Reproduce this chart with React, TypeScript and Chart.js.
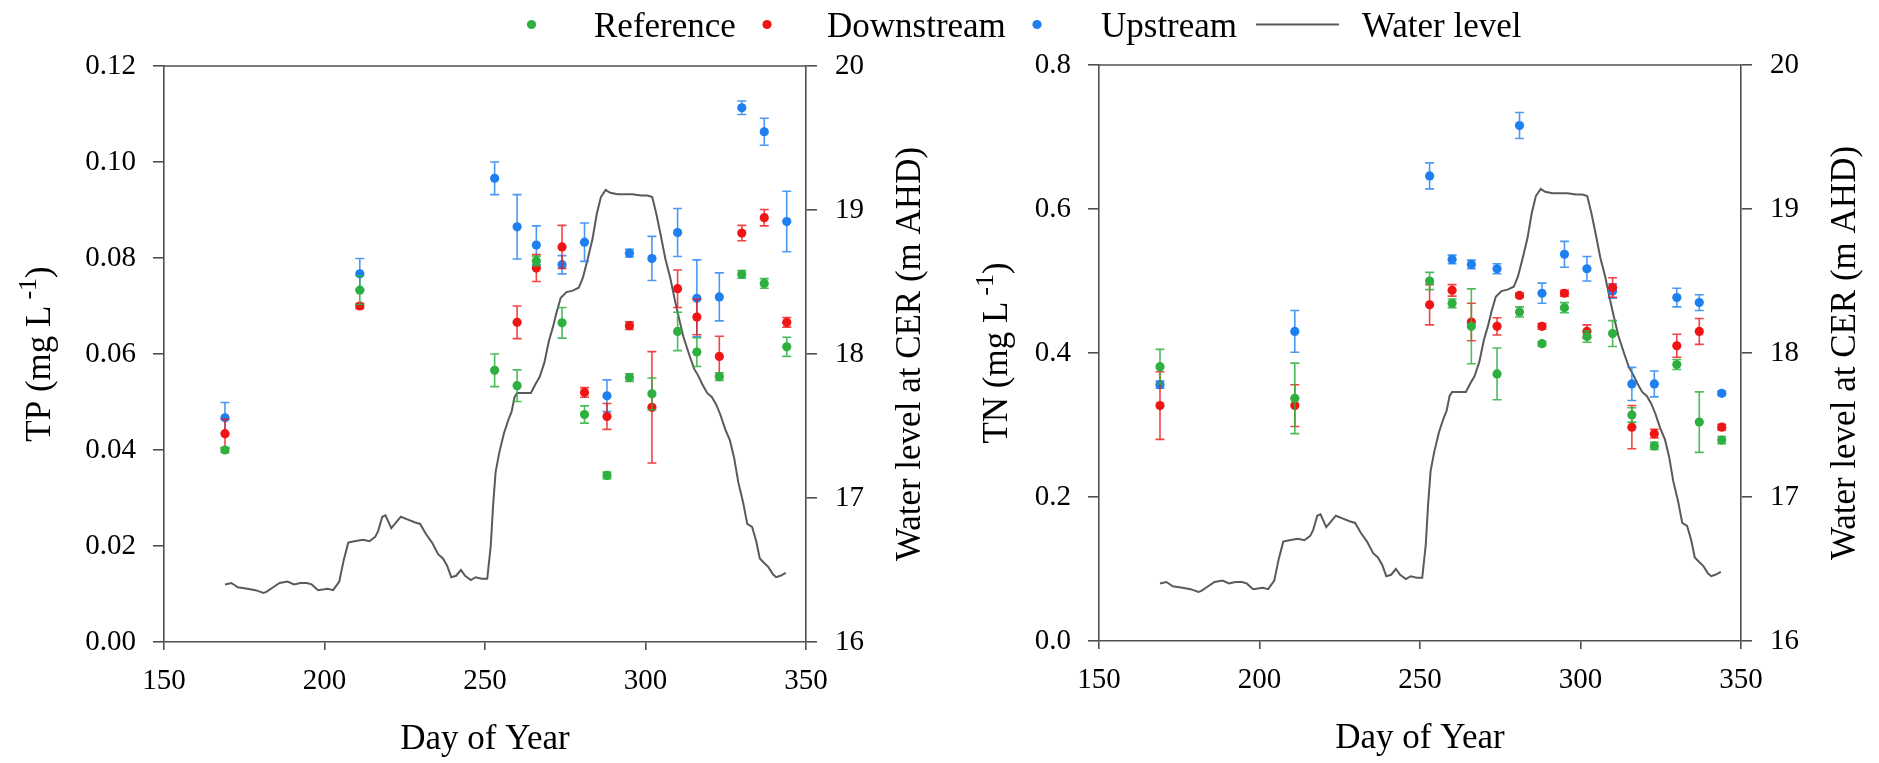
import React, { useEffect, useRef } from "react";
import { Chart, registerables } from "chart.js";

Chart.register(...registerables);

const FONT = "'Liberation Serif', 'Times New Roman', serif";
const GREEN = "#2eb040";
const RED = "#f01414";
const BLUE = "#1e80f0";
const LINE = "#5a5a5a";
const AXIS = "#505050";

// ---------- data ----------
const sampleDays = [169, 211, 253, 260, 266, 274, 281, 288, 295, 302, 310, 316, 323, 330, 337, 344];

const tpReference = [0.04, 0.0733, 0.0566, 0.0534, 0.0794, 0.0665, 0.0474, 0.0347, 0.0551, 0.0517, 0.0647, 0.0604, 0.0553, 0.0766, 0.0747, 0.0615];
const tpReferenceErr = [0.0005, 0.003, 0.0034, 0.0033, 0.001, 0.0032, 0.0018, 0.0007, 0.0008, 0.0033, 0.004, 0.003, 0.0008, 0.0008, 0.001, 0.002];
const tpDownstream = [0.0434, 0.07, null, 0.0666, 0.0779, 0.0823, 0.052, 0.047, 0.0659, 0.0489, 0.0736, 0.0677, 0.0595, 0.0852, 0.0884, 0.0666];
const tpDownstreamErr = [0.003, 0.0005, null, 0.0034, 0.0028, 0.0045, 0.001, 0.0027, 0.0008, 0.0116, 0.0039, 0.0037, 0.0042, 0.0016, 0.0017, 0.001];
const tpUpstream = [0.0467, 0.0767, 0.0966, 0.0865, 0.0827, 0.0786, 0.0833, 0.0513, 0.081, 0.0799, 0.0853, 0.0716, 0.0719, 0.1113, 0.1063, 0.0876];
const tpUpstreamErr = [0.0032, 0.0032, 0.0034, 0.0067, 0.004, 0.0019, 0.004, 0.0033, 0.0008, 0.0046, 0.005, 0.008, 0.005, 0.0014, 0.0028, 0.0063];

const tnReference = [0.381, 0.337, 0.5, 0.469, 0.437, 0.371, 0.457, 0.413, 0.463, 0.423, 0.427, 0.314, 0.271, 0.384, 0.304, 0.279];
const tnReferenceErr = [0.024, 0.049, 0.012, 0.006, 0.052, 0.036, 0.007, 0.003, 0.007, 0.008, 0.018, 0.01, 0.005, 0.007, 0.042, 0.005];
const tnDownstream = [0.327, 0.327, 0.467, 0.487, 0.443, 0.437, 0.48, 0.437, 0.483, 0.43, 0.491, 0.297, 0.288, 0.41, 0.43, 0.297];
const tnDownstreamErr = [0.047, 0.029, 0.028, 0.008, 0.026, 0.012, 0.003, 0.004, 0.004, 0.009, 0.0135, 0.03, 0.006, 0.016, 0.018, 0.004];
const tnUpstream = [0.356, 0.43, 0.646, 0.53, 0.523, 0.517, 0.716, 0.483, 0.537, 0.517, 0.486, 0.357, 0.357, 0.477, 0.47, 0.344];
const tnUpstreamErr = [0.005, 0.029, 0.018, 0.006, 0.006, 0.007, 0.018, 0.014, 0.018, 0.017, 0.01, 0.023, 0.018, 0.013, 0.011, 0.003];

const waterDays = [
  169, 171, 173, 176, 178.5, 181, 182, 184, 186, 188.5, 190.5, 192.5, 194.5, 196, 198, 201, 202.7, 204.6, 206, 207.4,
  209.3, 212, 214, 215.8, 216.7, 218, 219, 220.8, 222.3, 223.8, 226, 228.3, 229.8, 231.6, 233.5, 235.4, 236.9, 238.2,
  239.5, 241, 242.5, 243.8, 245.6, 247.1, 249, 250.7, 251.8, 252.5, 253.3, 254.4, 255.9, 257.4, 258.3, 259.2, 260,
  261.5, 264.3, 265.7, 267, 268.5, 269.9, 271.2, 272.3, 273.6, 275.4, 277.3, 279.2, 280.5, 282, 283.5, 284.8, 286.1,
  287.6, 289, 291.3, 294.1, 295.9, 298.7, 300.6, 302.1, 303.4, 304.7, 306.2, 307.7, 309, 310.3, 311.8, 313.7, 315.1,
  316.4, 317.7, 319.2, 320.7, 322, 323.3, 324.8, 326.3, 327.6, 328.9, 330.4, 331.7, 333.2, 334.5, 335.6, 336.9, 338.3,
  339.7, 340.7, 342, 343.7,
];
const waterLevel = [
  16.4, 16.41, 16.38, 16.37, 16.36, 16.34, 16.35, 16.38, 16.41, 16.42, 16.4, 16.41, 16.41, 16.4, 16.36, 16.37, 16.36, 16.42, 16.57, 16.69,
  16.7, 16.71, 16.7, 16.73, 16.77, 16.87, 16.88, 16.79, 16.83, 16.87, 16.85, 16.83, 16.82, 16.75, 16.69, 16.61, 16.58, 16.53,
  16.45, 16.46, 16.5, 16.46, 16.43, 16.45, 16.44, 16.44, 16.67, 16.94, 17.18, 17.31, 17.45, 17.55, 17.6, 17.7, 17.73,
  17.73, 17.73, 17.79, 17.84, 17.94, 18.09, 18.19, 18.29, 18.39, 18.43, 18.44, 18.46, 18.53, 18.66, 18.8, 18.97, 19.09,
  19.14, 19.12, 19.11, 19.11, 19.11, 19.1, 19.1, 19.09, 18.97, 18.83, 18.66, 18.53, 18.39, 18.26, 18.12, 17.99, 17.9,
  17.85, 17.79, 17.73, 17.7, 17.65, 17.58, 17.48, 17.4, 17.28, 17.11, 16.97, 16.82, 16.8, 16.7, 16.58, 16.55, 16.52,
  16.47, 16.45, 16.46, 16.48,
];

const xTicks = [150, 350, 50];
const levelTicks = [16, 20, 1];

// ---------- helpers ----------
function toPoints(days: number[], vals: (number | null)[], errs: (number | null)[]) {
  const out: any[] = [];
  days.forEach((d, i) => {
    if (vals[i] !== null && vals[i] !== undefined) out.push({ x: d, y: vals[i], e: errs[i] ?? 0 });
  });
  return out;
}

const errorBars = {
  id: "errorBars",
  beforeDatasetDraw(chart: any, args: any) {
    const ds = chart.data.datasets[args.index];
    if (!ds.hasErrors) return;
    const meta = args.meta;
    const ys = chart.scales[meta.yAxisID];
    const ctx = chart.ctx;
    ctx.save();
    ctx.strokeStyle = ds.errColor;
    ctx.lineWidth = 1.6;
    meta.data.forEach((el: any, i: number) => {
      const p = ds.data[i];
      if (!p || !p.e) return;
      const top = ys.getPixelForValue(p.y + p.e);
      const bot = ys.getPixelForValue(p.y - p.e);
      const x = el.x;
      ctx.beginPath();
      ctx.moveTo(x, top);
      ctx.lineTo(x, bot);
      ctx.moveTo(x - 4.5, top);
      ctx.lineTo(x + 4.5, top);
      ctx.moveTo(x - 4.5, bot);
      ctx.lineTo(x + 4.5, bot);
      ctx.stroke();
    });
    ctx.restore();
  },
};

function drawParts(ctx: CanvasRenderingContext2D, parts: { t: string; s: number; rise?: number; gap?: number }[]) {
  let total = 0;
  const widths = parts.map((p) => {
    ctx.font = `${p.s}px ${FONT}`;
    const w = ctx.measureText(p.t).width + (p.gap || 0);
    total += w;
    return w;
  });
  let x = -total / 2;
  parts.forEach((p, i) => {
    ctx.font = `${p.s}px ${FONT}`;
    ctx.fillText(p.t, x + (p.gap || 0), -(p.rise || 0));
    x += widths[i];
  });
}

const decor = {
  id: "decor",
  afterDraw(chart: any, _args: any, opts: any) {
    const ctx = chart.ctx;
    const a = chart.chartArea;
    ctx.save();
    // top frame line
    ctx.strokeStyle = AXIS;
    ctx.lineWidth = 1.6;
    ctx.beginPath();
    ctx.moveTo(a.left, a.top);
    ctx.lineTo(a.right, a.top);
    ctx.stroke();

    ctx.fillStyle = "#000";
    ctx.textAlign = "left";
    ctx.textBaseline = "alphabetic";
    const midY = (a.top + a.bottom) / 2;

    // x title
    ctx.save();
    ctx.translate((a.left + a.right) / 2, a.bottom + opts.xTitleGap);
    drawParts(ctx, [{ t: "Day of Year", s: 35 }]);
    ctx.restore();

    // left title
    ctx.save();
    ctx.translate(a.left - opts.yTitleGap, midY);
    ctx.rotate(-Math.PI / 2);
    drawParts(ctx, [
      { t: opts.yTitle + " (mg L", s: 35 },
      { t: "-1", s: 26, rise: 14, gap: 6 },
      { t: ")", s: 35 },
    ]);
    ctx.restore();

    // right title
    ctx.save();
    ctx.translate(a.right + 114, midY);
    ctx.rotate(-Math.PI / 2);
    drawParts(ctx, [{ t: "Water level at CER (m AHD)", s: 35 }]);
    ctx.restore();

    // legend
    if (opts.legend) {
      const ds = chart.data.datasets;
      const dotX = [531.5, 767, 1037];
      const textX = [594, 827, 1101];
      const cy = 24.5;
      const base = 36.5;
      ctx.font = `35px ${FONT}`;
      for (let i = 0; i < 3; i++) {
        ctx.fillStyle = ds[i].backgroundColor;
        ctx.beginPath();
        ctx.arc(dotX[i], cy, 4.6, 0, Math.PI * 2);
        ctx.fill();
        ctx.fillStyle = "#000";
        ctx.fillText(ds[i].label, textX[i], base);
      }
      ctx.strokeStyle = ds[3].borderColor;
      ctx.lineWidth = 2;
      ctx.beginPath();
      ctx.moveTo(1256, cy);
      ctx.lineTo(1339, cy);
      ctx.stroke();
      ctx.fillStyle = "#000";
      ctx.fillText(ds[3].label, 1362, base);
    }
    ctx.restore();
  },
};

function pointSet(label: string, color: string, errColor: string, data: any[], order: number) {
  return {
    label,
    data,
    backgroundColor: color,
    borderColor: color,
    pointRadius: 4.6,
    pointHoverRadius: 4.6,
    pointBorderWidth: 0,
    showLine: false,
    yAxisID: "y",
    hasErrors: true,
    errColor,
    order,
  };
}

function makeConfig(o: any) {
  const tickFont = { family: FONT, size: 29 };
  const grid = (tl: number) => ({
    display: true,
    drawOnChartArea: false,
    drawTicks: true,
    tickLength: tl,
    color: AXIS,
    lineWidth: 1.6,
  });
  const border = { display: true, color: AXIS, width: 1.6 };
  return {
    type: "scatter",
    data: {
      datasets: [
        pointSet("Reference", GREEN, "rgba(46,176,64,0.85)", toPoints(sampleDays, o.ref, o.refErr), 1),
        pointSet("Downstream", RED, "rgba(240,20,20,0.8)", toPoints(sampleDays, o.down, o.downErr), 2),
        pointSet("Upstream", BLUE, "rgba(30,128,240,0.8)", toPoints(sampleDays, o.up, o.upErr), 3),
        {
          label: "Water level",
          data: waterDays.map((d, i) => ({ x: d, y: waterLevel[i] })),
          showLine: true,
          borderColor: LINE,
          backgroundColor: LINE,
          borderWidth: 2,
          pointRadius: 0,
          pointHoverRadius: 0,
          tension: 0,
          fill: false,
          yAxisID: "y1",
          order: 10,
        },
      ],
    },
    options: {
      animation: false,
      responsive: false,
      events: [],
      layout: { padding: { left: 0, right: o.padRight, top: o.padTop, bottom: 0 } },
      plugins: {
        legend: { display: false },
        tooltip: { enabled: false },
        decor: { legend: o.legend, yTitle: o.yTitle, yTitleGap: o.yTitleGap, xTitleGap: 107 },
      },
      scales: {
        x: {
          type: "linear",
          position: "bottom",
          min: xTicks[0],
          max: xTicks[1],
          ticks: { stepSize: xTicks[2], font: tickFont, color: "#000", padding: 14, maxRotation: 0, autoSkip: false },
          grid: grid(8),
          border,
          afterFit: (s: any) => {
            s.height = o.xHeight;
          },
        },
        y: {
          type: "linear",
          position: "left",
          min: o.yMin,
          max: o.yMax,
          ticks: {
            stepSize: o.yStep,
            font: tickFont,
            color: "#000",
            padding: 17,
            callback: (v: any) => Number(v).toFixed(o.yDigits),
          },
          grid: grid(11),
          border,
          afterFit: (s: any) => {
            s.width = 164;
          },
        },
        y1: {
          type: "linear",
          position: "right",
          min: levelTicks[0],
          max: levelTicks[1],
          ticks: { stepSize: levelTicks[2], font: tickFont, color: "#000", padding: 18, callback: (v: any) => String(v) },
          grid: grid(11),
          border,
          afterFit: (s: any) => {
            s.width = o.rightWidth;
          },
        },
      },
    },
    plugins: [errorBars, decor],
  };
}

export default function App() {
  const leftRef = useRef<HTMLCanvasElement>(null);
  const rightRef = useRef<HTMLCanvasElement>(null);

  useEffect(() => {
    document.body.style.margin = "0";
    const left = new Chart(
      leftRef.current as any,
      makeConfig({
        ref: tpReference,
        refErr: tpReferenceErr,
        down: tpDownstream,
        downErr: tpDownstreamErr,
        up: tpUpstream,
        upErr: tpUpstreamErr,
        yMin: 0,
        yMax: 0.12,
        yStep: 0.02,
        yDigits: 2,
        yTitle: "TP",
        yTitleGap: 114,
        padRight: 1879 - 935,
        rightWidth: 935 - 806,
        padTop: 66,
        xHeight: 121,
        legend: true,
      }) as any
    );
    const right = new Chart(
      rightRef.current as any,
      makeConfig({
        ref: tnReference,
        refErr: tnReferenceErr,
        down: tnDownstream,
        downErr: tnDownstreamErr,
        up: tnUpstream,
        upErr: tnUpstreamErr,
        yMin: 0,
        yMax: 0.8,
        yStep: 0.2,
        yDigits: 1,
        yTitle: "TN",
        yTitleGap: 92,
        padRight: 0,
        rightWidth: 944 - 806,
        padTop: 65,
        xHeight: 122,
        legend: false,
      }) as any
    );
    return () => {
      left.destroy();
      right.destroy();
    };
  }, []);

  return (
    <div style={{ position: "absolute", left: 0, top: 0, width: 1879, height: 763, background: "#fff" }}>
      <canvas ref={leftRef} width={1879} height={763} style={{ position: "absolute", left: 0, top: 0 }} />
      <canvas ref={rightRef} width={944} height={763} style={{ position: "absolute", left: 935, top: 0 }} />
    </div>
  );
}
